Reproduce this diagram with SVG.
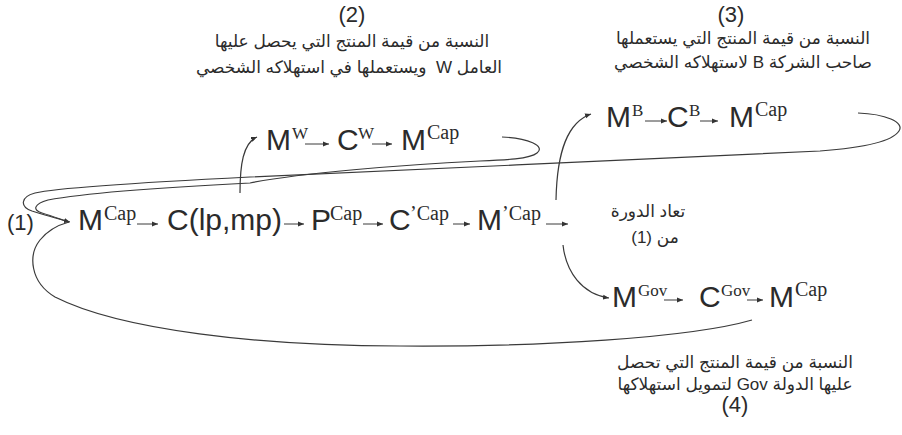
<svg xmlns="http://www.w3.org/2000/svg" width="902" height="435" viewBox="0 0 902 435">
<defs>
<marker id="ah" markerUnits="userSpaceOnUse" markerWidth="7" markerHeight="6" refX="6" refY="3" orient="auto">
<path d="M0,0.5 L6,3 L0,5.5 z" fill="#333"/>
</marker>
<style>
.big{font-family:"Liberation Sans","DejaVu Sans",sans-serif;font-size:30px;fill:#2b2b2b}
.sup{font-family:"Liberation Serif","DejaVu Serif",serif;font-size:20px;fill:#2b2b2b}
.sm{font-family:"Liberation Serif","DejaVu Serif",serif;font-size:17px;fill:#2b2b2b}
.ar{font-family:"Liberation Sans","DejaVu Sans",sans-serif;font-size:17px;fill:#2b2b2b}
.num{font-family:"Liberation Sans","DejaVu Sans",sans-serif;font-size:22px;fill:#2b2b2b}
.ln{fill:none;stroke:#3a3a3a;stroke-width:1.2}
.ar2{fill:none;stroke:#3a3a3a;stroke-width:1}
</style>
</defs>
<rect width="902" height="435" fill="#fff"/>

<g id="label-1"><text class="num" x="7" y="230">(1)</text></g>

<g id="node-mcap"><text class="big" x="78" y="230">M</text><text class="sup" x="104" y="220">Cap</text></g>
<g id="node-clpmp"><text class="big" x="167" y="230">C(lp,mp)</text></g>
<g id="node-pcap"><text class="big" x="311" y="230">P</text><text class="sup" x="330" y="220">Cap</text></g>
<g id="node-ccap"><text class="big" x="389" y="230">C</text><text class="sup" x="410" y="220">’Cap</text></g>
<g id="node-mcap2"><text class="big" x="477" y="230">M</text><text class="sup" x="502" y="220">’Cap</text></g>

<g id="node-w">
<text class="big" x="266" y="150">M</text><text class="sm" x="292" y="139">W</text>
<text class="big" x="337" y="150">C</text><text class="sm" x="358" y="139">W</text>
<text class="big" x="401" y="150">M</text><text class="sup" x="427" y="139">Cap</text>
</g>

<g id="node-b">
<text class="big" x="606" y="127">M</text><text class="sm" x="632" y="116">B</text>
<text class="big" x="667" y="127">C</text><text class="sm" x="689" y="116">B</text>
<text class="big" x="729" y="127">M</text><text class="sup" x="755" y="116">Cap</text>
</g>

<g id="node-gov">
<text class="big" x="612" y="307">M</text><text class="sm" x="638" y="296">Gov</text>
<text class="big" x="699" y="307">C</text><text class="sm" x="721" y="296">Gov</text>
<text class="big" x="769" y="307">M</text><text class="sup" x="795" y="296">Cap</text>
</g>

<g id="label-2">
<text class="num" x="352" y="22" text-anchor="middle">(2)</text>
<text class="ar" x="352" y="47" text-anchor="middle" direction="rtl">النسبة من قيمة المنتج التي يحصل عليها</text>
<text class="ar" x="349" y="73" text-anchor="middle" direction="rtl">العامل W &#160;ويستعملها في استهلاكه الشخصي</text>
</g>

<g id="label-3">
<text class="num" x="731" y="22" text-anchor="middle">(3)</text>
<text class="ar" x="743" y="44" text-anchor="middle" direction="rtl">النسبة من قيمة المنتج التي يستعملها</text>
<text class="ar" x="743" y="68" text-anchor="middle" direction="rtl">صاحب الشركة B لاستهلاكه الشخصي</text>
</g>

<g id="label-repeat">
<text class="ar" x="648" y="217" text-anchor="middle" direction="rtl">تعاد الدورة</text>
<text class="ar" x="655" y="243" text-anchor="middle" direction="rtl">من (1)</text>
</g>

<g id="label-4">
<text class="ar" x="735" y="368" text-anchor="middle" direction="rtl">النسبة من قيمة المنتج التي تحصل</text>
<text class="ar" x="735" y="390" text-anchor="middle" direction="rtl">عليها الدولة Gov لتمويل استهلاكها</text>
<text class="num" x="735" y="412" text-anchor="middle">(4)</text>
</g>

<g id="connectors">
<line class="ar2" x1="137" y1="224" x2="158" y2="224" marker-end="url(#ah)"/>
<line class="ar2" x1="284" y1="224" x2="304" y2="224" marker-end="url(#ah)"/>
<line class="ar2" x1="363" y1="224" x2="383" y2="224" marker-end="url(#ah)"/>
<line class="ar2" x1="453" y1="224" x2="470" y2="224" marker-end="url(#ah)"/>
<line class="ar2" x1="546" y1="224" x2="568" y2="224" marker-end="url(#ah)"/>

<line class="ar2" x1="305" y1="144" x2="329" y2="144" marker-end="url(#ah)"/>
<line class="ar2" x1="372" y1="144" x2="392" y2="144" marker-end="url(#ah)"/>

<line class="ar2" x1="645" y1="121" x2="667" y2="121" marker-end="url(#ah)"/>
<line class="ar2" x1="700" y1="121" x2="718" y2="121" marker-end="url(#ah)"/>

<line class="ar2" x1="664" y1="300" x2="683" y2="300" marker-end="url(#ah)"/>
<line class="ar2" x1="747" y1="300" x2="763" y2="300" marker-end="url(#ah)"/>

<path class="ln" d="M240 193 C240 165 243 143 257 137" marker-end="url(#ah)"/>
<path class="ln" d="M556 200 C557 150 568 122 591 114" marker-end="url(#ah)"/>
<path class="ln" d="M563 245 C566 272 582 294 609 298" marker-end="url(#ah)"/>

<path class="ln" d="M858 113 C885 114 905 122 899 131 C892 142 860 148 820 151 C700 157 400 170 250 177 C150 182 60 187 35 193 C20 197 20 207 32 211 C45 215 58 219 70 222" marker-end="url(#ah)"/>
<path class="ln" d="M502 137 C528 138 546 146 537 153 C530 159 505 160 480 161 C400 165 300 173 250 183 C150 188 80 194 48 200 C34 204 32 210 42 213 C52 216 60 219 69 222"/>
<path class="ln" d="M752 320 C690 338 540 347 400 346 C260 346 120 330 55 297 C30 282 28 255 40 240 C48 230 58 225 69 222"/>
</g>
</svg>
